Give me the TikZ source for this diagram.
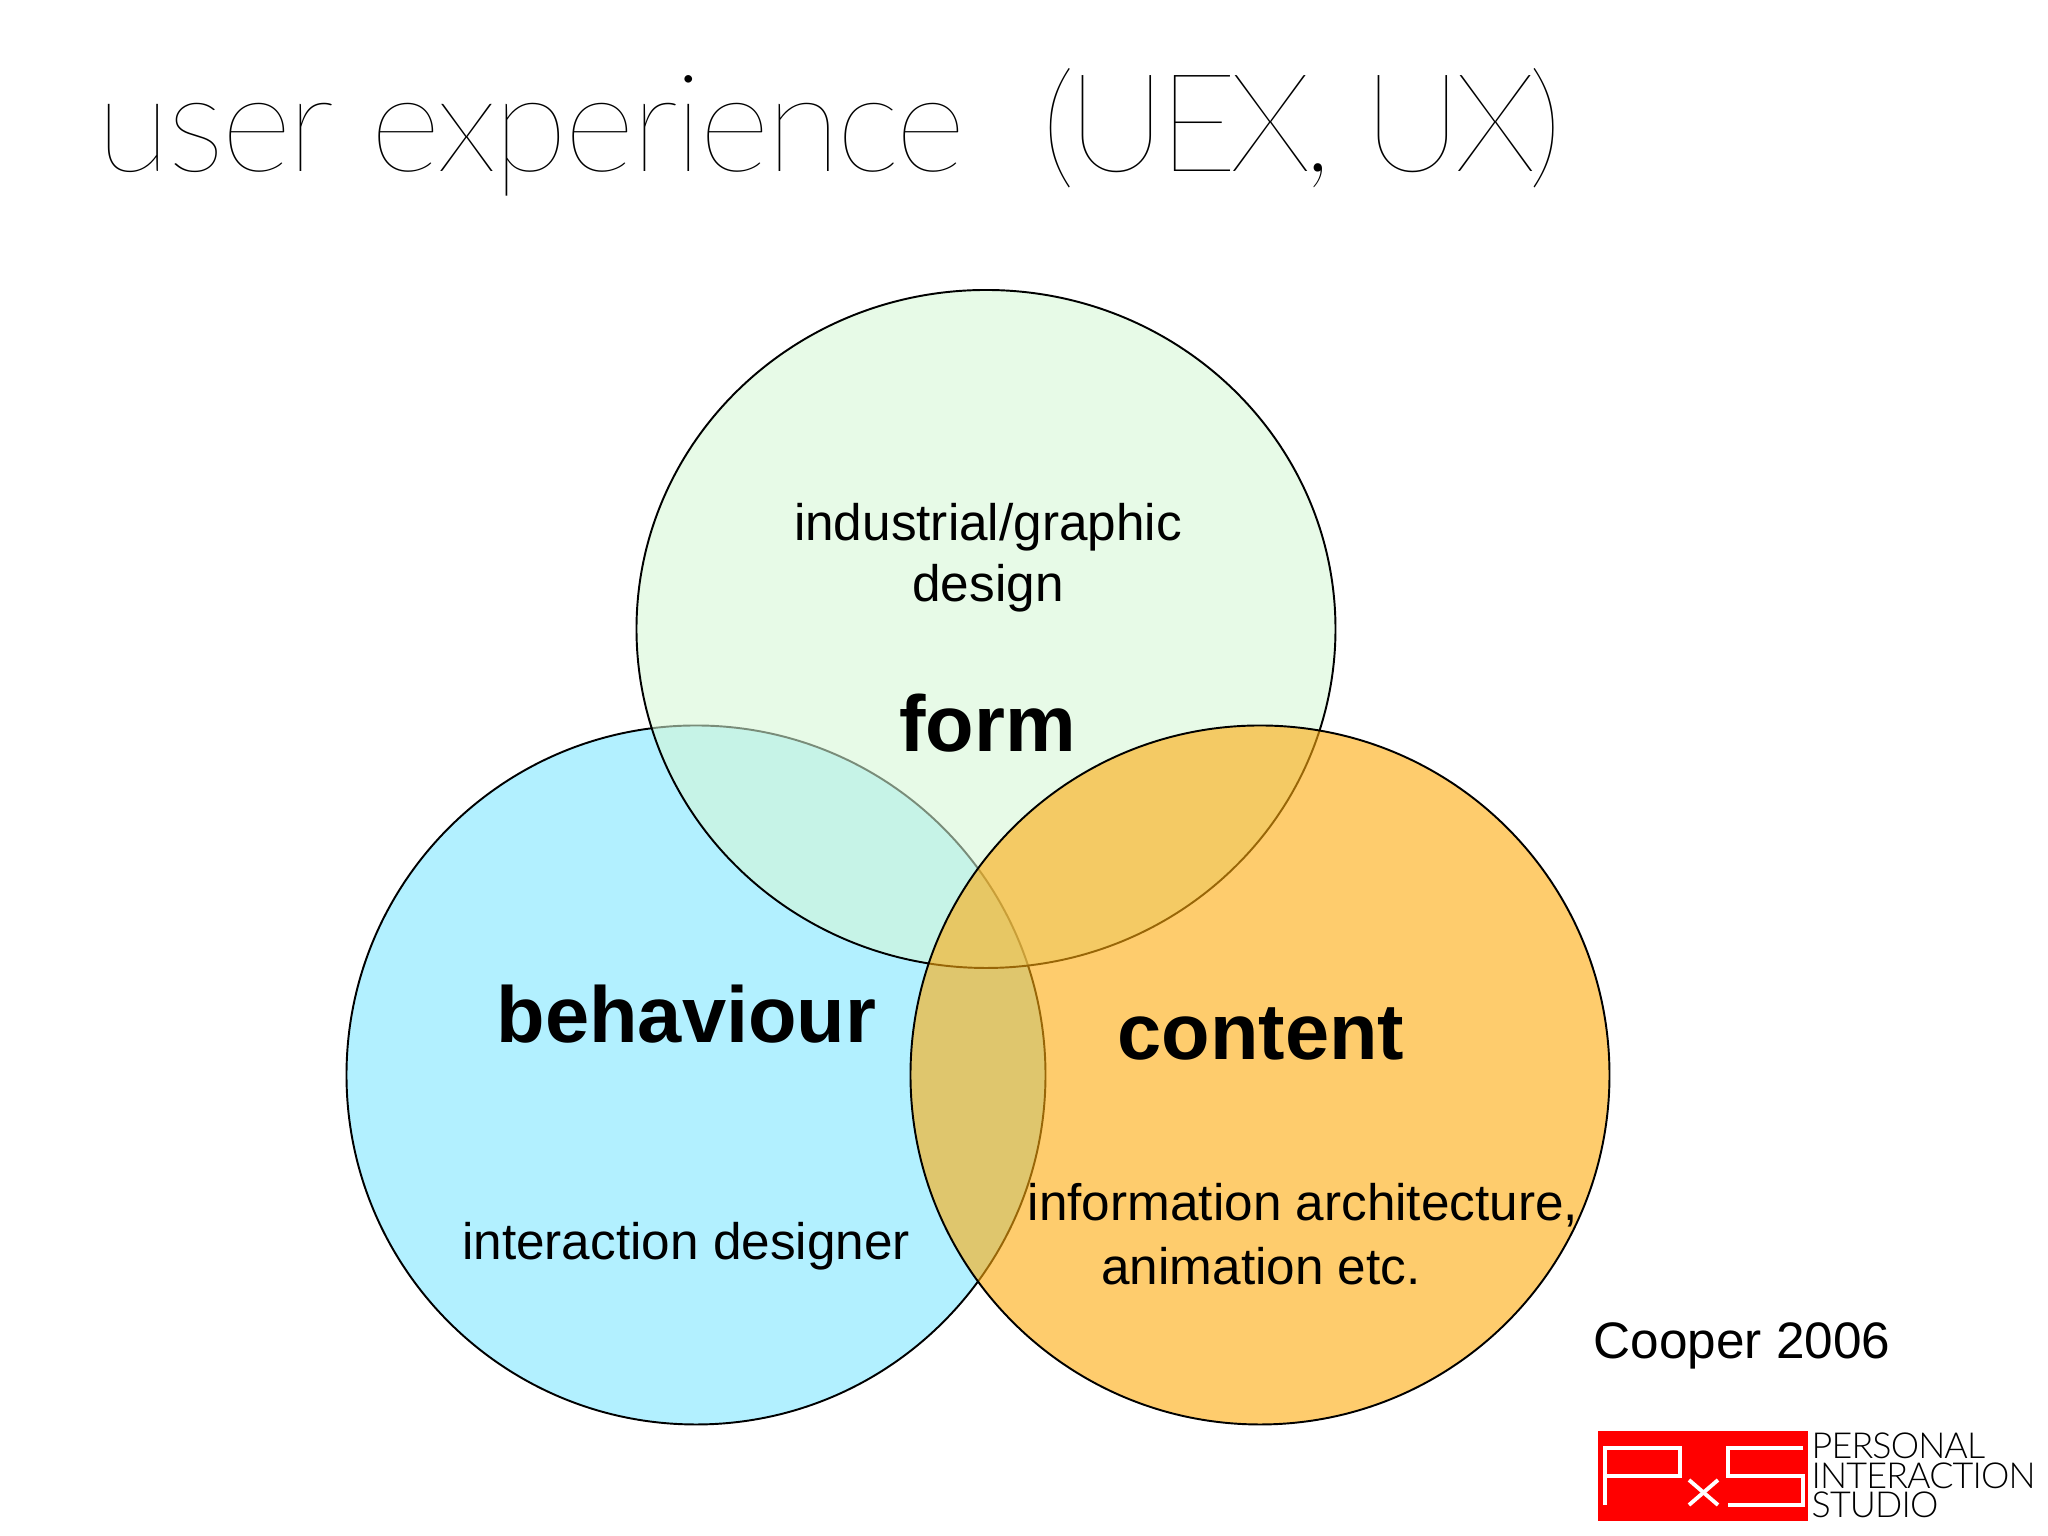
\documentclass[tikz,border=0pt]{standalone}
\usepackage{fontspec}
\setmainfont{Liberation Sans}
\newfontfamily\hairfont[LetterSpace=-2.8]{Lato Thin}
\newfontfamily\hairtightfont[LetterSpace=-6]{Lato Thin}
\newfontfamily\logofont[LetterSpace=-2.4]{Lato Light}
\usetikzlibrary{shapes.geometric}
\definecolor{behaviourblue}{RGB}{178,240,255}
\definecolor{formgreen}{RGB}{214,247,214}
\definecolor{contentorange}{RGB}{254,170,13}
\definecolor{logored}{RGB}{255,0,0}
\tikzset{
    venn/.style={draw=black, shape=circle, line width=0.55pt, minimum size=6.99cm, inner sep=0pt},
    vennflat/.style={draw=black, shape=ellipse, line width=0.55pt, minimum width=6.99cm, minimum height=6.78cm, inner sep=0pt},
    bigword/.style={anchor=base, inner sep=0pt, font=\fontsize{22.6}{27}\selectfont\bfseries},
    smallword/.style={anchor=base, inner sep=0pt, font=\fontsize{14.6}{17.6}\selectfont, align=center},
    logoword/.style={anchor=base west, inner sep=0pt, font=\fontsize{10.2}{12}\selectfont\logofont},
    logoline/.style={draw=white, line width=1.1pt}
}
\begin{document}
\begin{tikzpicture}
    \useasboundingbox (0, 0) rectangle (20.48, 15.36);
    \fill[white] (0, 0) rectangle (20.48, 15.36);

    \node[font=\fontsize{39}{47}\selectfont, anchor=base west, inner sep=0pt] (title) at (0.96, 13.64) {\hairfont user experience\hspace{0.75cm}\hairtightfont (UEX, UX)};

    \node[venn, fill=behaviourblue] (behaviour) at (6.96, 4.61) {};
    \node[vennflat, fill=formgreen, fill opacity=0.57] (form) at (9.86, 9.07) {};
    \node[venn, fill=contentorange, fill opacity=0.6] (content) at (12.60, 4.61) {};

    \node[smallword] (formtext) at (9.88, 9.34) {industrial/graphic\\design};
    \node[bigword] (formlabel) at (9.875, 7.84) {form};
    \node[bigword] (behaviourlabel) at (6.865, 4.93) {behaviour};
    \node[bigword] (contentlabel) at (12.61, 4.76) {content};
    \node[smallword] (behaviourtext) at (6.86, 2.76) {interaction designer};
    \node[smallword] (contenttext) at (13.03, 2.515) {information architecture,\\[0.5pt]animation etc.\hspace{0.84cm}\mbox{}};
    \node[smallword, anchor=base west] (source) at (15.93, 1.77) {Cooper 2006};

    \node[fill=logored, minimum width=2.10cm, minimum height=0.90cm, inner sep=0pt] (logo) at (17.03, 0.60) {};
    \draw[logoline] (16.05, 0.31) -- (16.05, 0.88) -- (16.80, 0.88) -- (16.80, 0.60) -- (16.05, 0.60);
    \draw[logoline] (16.89, 0.31) -- (17.18, 0.56);
    \draw[logoline] (16.89, 0.56) -- (17.18, 0.31);
    \draw[logoline] (18.03, 0.88) -- (17.28, 0.88) -- (17.28, 0.60) -- (18.03, 0.60) -- (18.03, 0.31) -- (17.28, 0.31);

    \node[logoword] (logo1) at (18.11, 0.77) {PERSONAL};
    \node[logoword] (logo2) at (18.11, 0.47) {INTERACTION};
    \node[logoword] (logo3) at (18.11, 0.18) {STUDIO};
\end{tikzpicture}
\end{document}
